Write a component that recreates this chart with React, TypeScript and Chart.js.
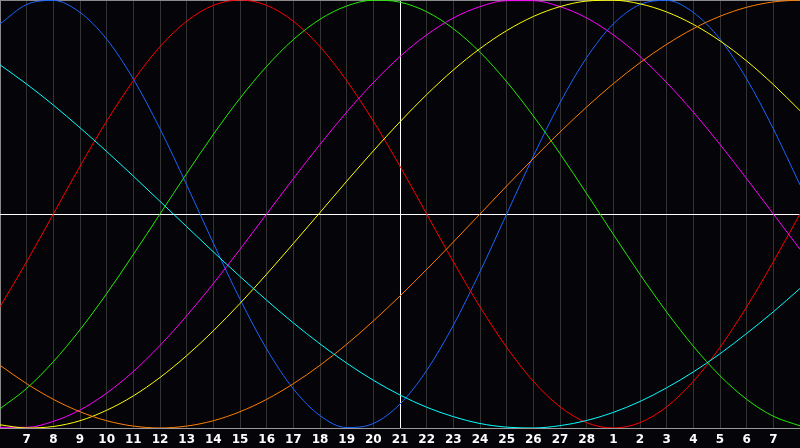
import { useEffect, useRef } from 'react';
import { Chart, registerables } from 'chart.js';

Chart.register(...registerables);

// day labels along the bottom (first and last slot sit on the frame, no label)
const dayLabels = [
  '', '7', '8', '9', '10', '11', '12', '13', '14', '15', '16', '17', '18', '19', '20',
  '21', '22', '23', '24', '25', '26', '27', '28', '1', '2', '3', '4', '5', '6', '7', '',
];

// values in percent, one per day
const physical = [88.8, 97.9, 99.8, 94.2, 81.7, 63.1, 39.8, 13.6, -13.6, -39.8, -63.1, -81.7, -94.2, -99.8, -97.9, -88.8, -73.1, -52.0, -27.0, 0, 27.0, 52.0, 73.1, 88.8, 97.9, 99.8, 94.2, 81.7, 63.1, 39.8, 13.6];
const emotional = [-43.4, -22.3, 0, 22.3, 43.4, 62.3, 78.2, 90.1, 97.5, 100, 97.5, 90.1, 78.2, 62.3, 43.4, 22.3, 0, -22.3, -43.4, -62.3, -78.2, -90.1, -97.5, -100, -97.5, -90.1, -78.2, -62.3, -43.4, -22.3, 0];
const intellectual = [-91.0, -81.5, -69.0, -54.1, -37.2, -18.9, 0, 18.9, 37.2, 54.1, 69.0, 81.5, 91.0, 97.2, 99.9, 99.0, 94.5, 86.6, 75.6, 61.8, 45.8, 28.2, 9.5, -9.5, -28.2, -45.8, -61.8, -75.6, -86.6, -94.5, -99.0];
const intuitive = [-99.7, -99.7, -96.9, -91.6, -83.7, -73.6, -61.4, -47.6, -32.5, -16.5, 0, 16.5, 32.5, 47.6, 61.4, 73.6, 83.7, 91.6, 96.9, 99.7, 99.7, 96.9, 91.6, 83.7, 73.6, 61.4, 47.6, 32.5, 16.5, 0, -16.5];
const aesthetic = [-98.5, -100.0, -99.3, -96.6, -91.7, -85.0, -76.4, -66.2, -54.6, -41.8, -28.1, -13.8, 0.7, 15.3, 29.5, 43.1, 55.8, 67.3, 77.3, 85.7, 92.3, 96.9, 99.5, 99.9, 98.2, 94.4, 88.6, 80.9, 71.5, 60.5, 48.3];
const awareness = [-70.7, -79.3, -86.6, -92.4, -96.6, -99.1, -100, -99.1, -96.6, -92.4, -86.6, -79.3, -70.7, -60.9, -50.0, -38.3, -25.9, -13.1, 0, 13.1, 25.9, 38.3, 50.0, 60.9, 70.7, 79.3, 86.6, 92.4, 96.6, 99.1, 100];
const spiritual = [69.7, 60.7, 50.9, 40.3, 29.2, 17.7, 5.9, -5.9, -17.7, -29.2, -40.3, -50.9, -60.7, -69.7, -77.7, -84.6, -90.3, -94.7, -97.9, -99.6, -100.0, -98.9, -96.5, -92.7, -87.6, -81.2, -73.8, -65.3, -55.8, -45.7, -34.8];

const TODAY_INDEX = 15;

function line(label: string, data: number[], color: string) {
  return {
    label,
    data,
    borderColor: color,
    backgroundColor: color,
    borderWidth: 1,
    pointRadius: 0,
    cubicInterpolationMode: 'monotone' as const,
    fill: false,
  };
}

export default function App() {
  const canvasRef = useRef<HTMLCanvasElement>(null);
  const chartRef = useRef<Chart | null>(null);

  useEffect(() => {
    if (!canvasRef.current) return;
    chartRef.current?.destroy();

    chartRef.current = new Chart(canvasRef.current, {
      type: 'line',
      data: {
        labels: dayLabels,
        datasets: [
          line('Spiritual', spiritual, '#00ffff'),
          line('Awareness', awareness, '#ff7f00'),
          line('Aesthetic', aesthetic, '#ffff00'),
          line('Intuitive', intuitive, '#ff00ff'),
          line('Intellectual', intellectual, '#22ee00'),
          line('Emotional', emotional, '#ff0000'),
          line('Physical', physical, '#1a66ff'),
        ],
      },
      options: {
        responsive: true,
        maintainAspectRatio: false,
        animation: false,
        layout: { padding: 0 },
        plugins: {
          legend: { display: false },
          tooltip: { enabled: false },
        },
        scales: {
          x: {
            offset: false,
            afterFit: (scale) => {
              scale.height = 20;
              scale.paddingLeft = 0;
              scale.paddingRight = 0;
            },
            border: { display: true, color: '#999999', width: 1 },
            grid: {
              drawTicks: false,
              lineWidth: 1,
              color: (ctx) => {
                if (ctx.index === TODAY_INDEX) return '#ffffff';
                if (ctx.index === 0 || ctx.index === dayLabels.length - 1) return '#8a8a8a';
                return '#333333';
              },
            },
            ticks: {
              autoSkip: false,
              maxRotation: 0,
              padding: 5,
              color: '#ffffff',
              font: { family: 'DejaVu Sans', size: 12, weight: 'bold' },
            },
          },
          y: {
            min: -100,
            max: 100,
            afterFit: (scale) => {
              scale.width = 0;
            },
            border: { display: false },
            grid: {
              drawTicks: false,
              color: (ctx) => {
                if (ctx.tick.value === 0) return '#ffffff';
                if (ctx.tick.value === 100) return '#8a8a8a';
                return 'rgba(0,0,0,0)';
              },
            },
            ticks: { display: false, stepSize: 100 },
          },
        },
      },
    });

    return () => {
      chartRef.current?.destroy();
      chartRef.current = null;
    };
  }, []);

  return (
    <div
      style={{
        position: 'fixed',
        left: 0,
        top: 0,
        width: 800,
        height: 448,
        background: '#050409',
      }}
    >
      <canvas ref={canvasRef} />
    </div>
  );
}
